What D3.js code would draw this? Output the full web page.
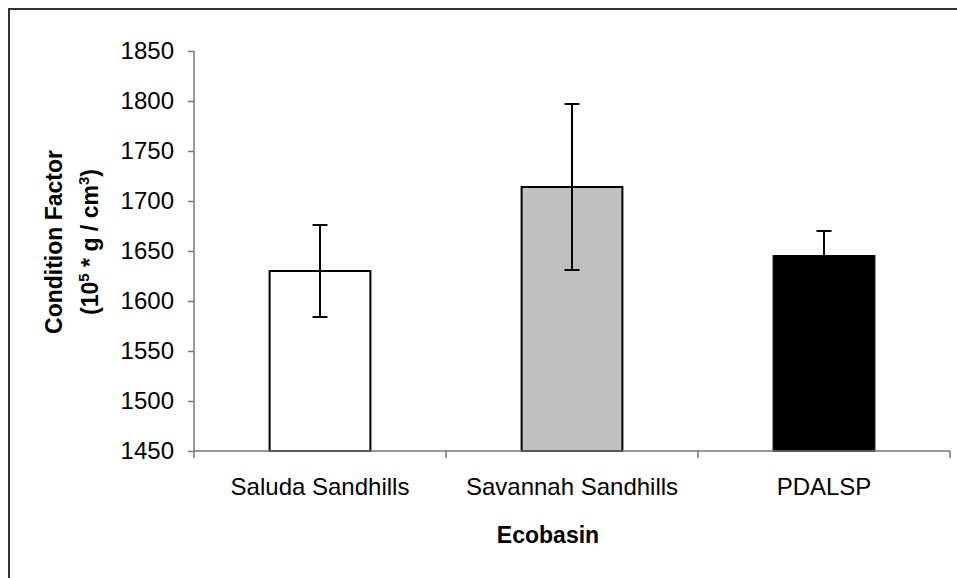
<!DOCTYPE html>
<html>
<head>
<meta charset="utf-8">
<script src="https://cdn.jsdelivr.net/npm/d3@7"></script>
<style>
  html, body { margin: 0; padding: 0; background: #fff; }
  svg { display: block; font-family: "Liberation Sans", Arial, sans-serif; }
</style>
</head>
<body>
<svg id="chart" width="957" height="578"></svg>
<script>
// Mean condition factor per ecobasin, with its error half-width
const categories = ["Saluda Sandhills", "Savannah Sandhills", "PDALSP"];
const means = [1630, 1714, 1645];
const errors = [46, 83, 25];
const fills = ["#ffffff", "#c0c0c0", "#000000"];
const yTicks = [1450, 1500, 1550, 1600, 1650, 1700, 1750, 1800, 1850];

const svg = d3.select("#chart");
const plot = { left: 194, right: 950, top: 51, bottom: 451 };

// Outer frame of the chart area
svg.append("rect")
  .attr("x", 9).attr("y", 9)
  .attr("width", 960).attr("height", 580)
  .attr("fill", "#fff")
  .attr("stroke", "#333").attr("stroke-width", 2);

const x = d3.scaleBand()
  .domain(categories)
  .range([plot.left, plot.right])
  .paddingInner(0.6)
  .paddingOuter(0.3);

const y = d3.scaleLinear()
  .domain([1450, 1850])
  .range([plot.bottom, plot.top]);

const data = categories.map((c, i) => ({ c, mean: means[i], err: errors[i], fill: fills[i] }));

// Bars
svg.append("g").selectAll("rect")
  .data(data)
  .join("rect")
  .attr("x", d => x(d.c))
  .attr("y", d => y(d.mean))
  .attr("width", x.bandwidth())
  .attr("height", d => y(1450) - y(d.mean))
  .attr("fill", d => d.fill)
  .attr("stroke", "#000")
  .attr("stroke-width", 2);

// Error bars
const eb = svg.append("g").attr("stroke", "#000").attr("stroke-width", 2);
data.forEach(d => {
  const cx = x(d.c) + x.bandwidth() / 2;
  eb.append("line")
    .attr("x1", cx).attr("x2", cx)
    .attr("y1", y(d.mean + d.err)).attr("y2", y(d.mean - d.err));
  [d.mean + d.err, d.mean - d.err].forEach(v => {
    eb.append("line")
      .attr("x1", cx - 7.5).attr("x2", cx + 7.5)
      .attr("y1", y(v)).attr("y2", y(v));
  });
});

// Y axis
const yAxis = svg.append("g")
  .attr("transform", `translate(${plot.left},0)`)
  .call(d3.axisLeft(y).tickValues(yTicks).tickSize(6).tickPadding(14).tickFormat(d3.format("d")));
yAxis.selectAll("path, line").attr("stroke", "#777").attr("stroke-width", 1.5);
yAxis.select(".domain").attr("d", `M0,${plot.top}V${plot.bottom}`);
yAxis.selectAll("text").attr("font-size", 24).attr("fill", "#000")
  .attr("font-family", "Liberation Sans, Arial, sans-serif");

// X axis: line with separators between categories
const xAxisG = svg.append("g");
xAxisG.append("line")
  .attr("x1", plot.left).attr("x2", plot.right)
  .attr("y1", plot.bottom).attr("y2", plot.bottom)
  .attr("stroke", "#777").attr("stroke-width", 1.5);
const seps = [plot.left].concat(categories.map(c => x(c) + x.bandwidth() / 2 + x.step() / 2));
xAxisG.selectAll("line.sep")
  .data(seps)
  .join("line")
  .attr("class", "sep")
  .attr("x1", d => d).attr("x2", d => d)
  .attr("y1", plot.bottom).attr("y2", plot.bottom + 7)
  .attr("stroke", "#777").attr("stroke-width", 1.5);
xAxisG.selectAll("text")
  .data(categories)
  .join("text")
  .attr("x", d => x(d) + x.bandwidth() / 2)
  .attr("y", 495)
  .attr("text-anchor", "middle")
  .attr("font-size", 24)
  .attr("fill", "#000")
  .text(d => d);

// Axis titles
svg.append("text")
  .attr("x", 548).attr("y", 543)
  .attr("text-anchor", "middle")
  .attr("font-size", 23).attr("font-weight", "bold")
  .text("Ecobasin");

const yTitle = svg.append("text")
  .attr("transform", "translate(0,242) rotate(-90)")
  .attr("text-anchor", "middle")
  .attr("font-size", 23).attr("font-weight", "bold");
yTitle.append("tspan").attr("x", 0).attr("y", 62).text("Condition Factor");
const l2 = yTitle.append("tspan").attr("x", 0).attr("y", 98);
l2.append("tspan").text("(10");
l2.append("tspan").attr("font-size", 15).attr("dy", -9).text("5");
l2.append("tspan").attr("dy", 9).text(" * g / cm");
l2.append("tspan").attr("font-size", 15).attr("dy", -9).text("3");
l2.append("tspan").attr("dy", 9).text(")");
</script>
</body>
</html>
